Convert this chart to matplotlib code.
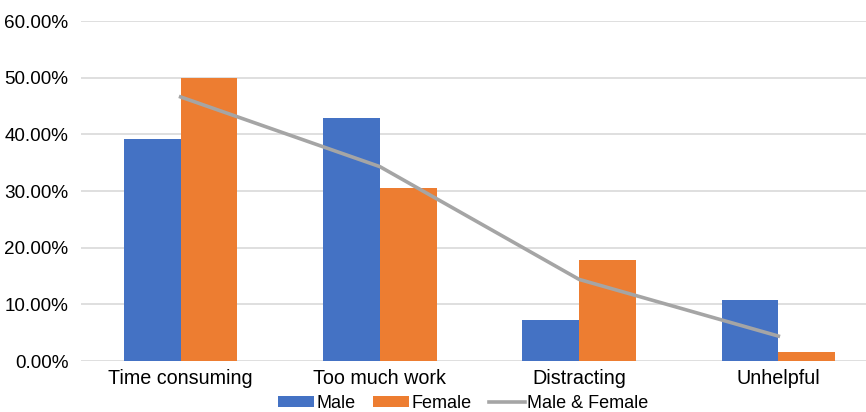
import matplotlib.pyplot as plt
import numpy as np
from matplotlib.ticker import FuncFormatter

plt.rcParams['font.family'] = ['Liberation Sans', 'DejaVu Sans']

categories = ['Time consuming', 'Too much work', 'Distracting', 'Unhelpful']
male = [0.392, 0.429, 0.072, 0.107]
female = [0.500, 0.305, 0.178, 0.016]
combined = [0.466, 0.343, 0.144, 0.044]

fig = plt.figure(figsize=(8.66, 4.12), dpi=100)
ax = fig.add_axes([81 / 866, 51 / 412, 785 / 866, 340 / 412])

x = np.arange(len(categories))
w = 0.285
ax.bar(x - w / 2, male, w, color='#4472c4', label='Male', zorder=2)
ax.bar(x + w / 2, female, w, color='#ed7d31', label='Female', zorder=2)
ax.plot(x, combined, color='#a5a5a5', lw=2.6, label='Male & Female', zorder=3)

ax.set_xlim(-0.5, 3.44)
ax.set_ylim(0, 0.6)
ax.set_yticks(np.arange(0, 0.61, 0.1))
ax.yaxis.set_major_formatter(FuncFormatter(lambda v, p: f'{v * 100:.2f}%'))
ax.set_xticks(x)
ax.set_xticklabels(categories, fontsize=14.2)
ax.tick_params(axis='both', length=0, colors='black')
ax.tick_params(axis='y', pad=9, labelsize=13.6)
ax.tick_params(axis='x', pad=6)
ax.grid(axis='y', color='#d9d9d9', lw=1.2, zorder=0)
for s in ax.spines.values():
    s.set_visible(False)

h, l = ax.get_legend_handles_labels()
order = [1, 2, 0]
fig.legend([h[i] for i in order], [l[i] for i in order], loc='lower center',
           bbox_to_anchor=(0.535, -0.04), ncol=3, frameon=False,
           fontsize=13, handlelength=2.0, handleheight=0.55, columnspacing=1.0,
           handletextpad=0.1)

fig.savefig('out.png', dpi=100)
